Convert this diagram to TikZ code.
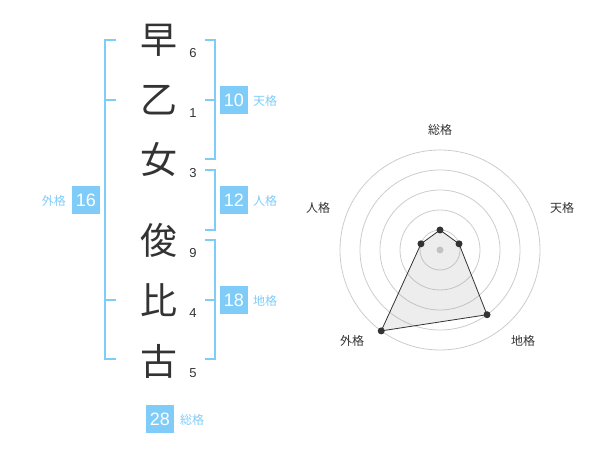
\documentclass[tikz,border=0pt]{standalone}
\usepackage{fontspec}
\usetikzlibrary{calc}
\setmainfont{Liberation Sans}
\newfontfamily\jp{Noto Sans CJK JP}
\definecolor{kblue}{RGB}{128,204,248}
\definecolor{ink}{RGB}{51,51,51}
\definecolor{ring}{RGB}{204,204,204}
\tikzset{
  kanji/.style={font=\jp\fontsize{37}{37}\selectfont, text=ink, inner sep=0pt},
  stroke/.style={font=\fontsize{13}{13}\selectfont, text=ink, inner sep=0pt},
  kbox/.style={fill=kblue, text=white, minimum width=28pt, minimum height=28pt, inner sep=0pt, font=\fontsize{18}{18}\selectfont},
  klabel/.style={font=\jp\fontsize{12}{12}\selectfont, text=kblue, inner sep=0pt},
  bracket/.style={draw=kblue, line width=2pt},
  rlabel/.style={font=\jp\fontsize{12}{12}\selectfont, text=ink, inner sep=0pt},
  ringc/.style={draw=ring, line width=0.8pt},
  dotp/.style={circle, fill=ink, inner sep=0pt, minimum size=7pt},
}
\begin{document}
\begin{tikzpicture}[x=1pt,y=-1pt]
\useasboundingbox (0,0) rectangle (600,470);
% characters
\node[kanji] (c1) at (159,40) {早};
\node[kanji] (c2) at (159,100) {乙};
\node[kanji] (c3) at (159,160) {女};
\node[kanji] (c4) at (159,240) {俊};
\node[kanji] (c5) at (159,300) {比};
\node[kanji] (c6) at (159,361) {古};
\node[stroke] (n1) at (193,53) {6};
\node[stroke] (n2) at (193,113) {1};
\node[stroke] (n3) at (193,173) {3};
\node[stroke] (n4) at (193,253) {9};
\node[stroke] (n5) at (193,313) {4};
\node[stroke] (n6) at (193,373) {5};
% brackets
\draw[bracket] (116,40) -- (105,40) -- (105,359) -- (116,359);
\draw[bracket] (105,100) -- (116,100);
\draw[bracket] (105,300) -- (116,300);
\draw[bracket] (205,40) -- (215,40) -- (215,159) -- (205,159);
\draw[bracket] (205,100) -- (215,100);
\draw[bracket] (205,170) -- (215,170) -- (215,230) -- (205,230);
\draw[bracket] (205,240) -- (215,240) -- (215,359) -- (205,359);
\draw[bracket] (205,300) -- (215,300);
% boxes
\node[kbox] (b1) at (234,100) {10};
\node[klabel, anchor=west] (l1) at (253,101) {天格};
\node[kbox] (b2) at (234,200) {12};
\node[klabel, anchor=west] (l2) at (253,201) {人格};
\node[kbox] (b3) at (234,300) {18};
\node[klabel, anchor=west] (l3) at (253,301) {地格};
\node[kbox] (b4) at (86,200) {16};
\node[klabel, anchor=east] (l4) at (66,201) {外格};
\node[kbox] (b5) at (160,419) {28};
\node[klabel, anchor=west] (l5) at (180,420) {総格};
% radar
\coordinate (o) at (440,250);
\foreach \r in {20,40,60,80,100} \draw[ringc] (o) circle (\r);
\fill[ring] (o) circle (3.5);
\coordinate (p1) at ($(o)+(-90:20)$);
\coordinate (p2) at ($(o)+(-18:20)$);
\coordinate (p3) at ($(o)+(54:80)$);
\coordinate (p4) at ($(o)+(126:100)$);
\coordinate (p5) at ($(o)+(198:20)$);
\fill[black!40, opacity=0.18] (p1) -- (p2) -- (p3) -- (p4) -- (p5) -- cycle;
\draw[ink, line width=0.8pt] (p1) -- (p2) -- (p3) -- (p4) -- (p5) -- cycle;
\foreach \p in {p1,p2,p3,p4,p5} \node[dotp] at (\p) {};
\node[rlabel] (r1) at (440,130) {総格};
\node[rlabel] (r2) at (562,208) {天格};
\node[rlabel] (r3) at (523,341) {地格};
\node[rlabel] (r4) at (352,341) {外格};
\node[rlabel] (r5) at (318,208) {人格};
\end{tikzpicture}
\end{document}
